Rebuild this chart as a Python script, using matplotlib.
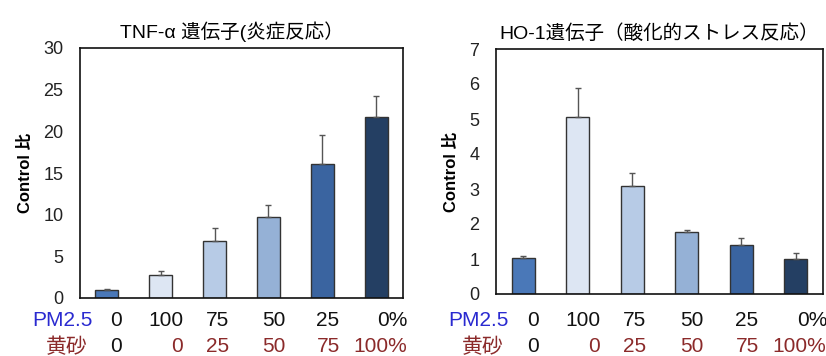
import matplotlib.pyplot as plt

plt.rcParams['font.family'] = ['Liberation Sans', 'Noto Sans CJK JP', 'DejaVu Sans']

# data
tnf_values = [1.0, 2.8, 6.8, 9.7, 16.1, 21.7]
tnf_errors = [0.1, 0.4, 1.6, 1.5, 3.5, 2.5]
ho1_values = [1.02, 5.05, 3.08, 1.77, 1.4, 1.0]
ho1_errors = [0.06, 0.85, 0.37, 0.06, 0.2, 0.16]

pm25_labels = ["0", "100", "75", "50", "25", "0%"]
kosa_labels = ["0", "0", "25", "50", "75", "100%"]

colors = ["#4a78b8", "#dde6f3", "#b7cbe6", "#95b1d6", "#3a64a0", "#243f63"]

fig = plt.figure(figsize=(8.26, 3.56), dpi=100)
ax1 = fig.add_axes([80 / 826, 1 - 298 / 356, 323 / 826, 250 / 356])
ax2 = fig.add_axes([496 / 826, 1 - 294 / 356, 327 / 826, 245 / 356])

# x positions of the label rows below each chart (data units)
pm_x = [0.17, 1.1, 2.05, 3.1, 4.1, 5.3]
ko_x = [0.17, 1.3, 2.05, 3.1, 4.12, 5.07]
red = "#8b2a2a"


def draw(ax, values, errors, ymax, title, title_x, bottom_px, height_px):
    x = range(len(values))
    ax.bar(x, values, width=0.43, color=colors, edgecolor="#333333", linewidth=1.0,
           yerr=[[0] * len(errors), errors], error_kw=dict(ecolor="#555555", elinewidth=1.0, capsize=2.5, capthick=1.0))
    ax.set_xlim(-0.5, 5.5)
    ax.set_ylim(0, ymax)
    ax.set_xticks([])
    ax.tick_params(axis="y", length=0, pad=12, labelsize=13, labelcolor="#222222")
    for s in ax.spines.values():
        s.set_linewidth(1.2)
        s.set_color("#111111")
    ax.set_ylabel("Control 比", fontsize=12, fontweight="bold", labelpad=7)
    ax.set_title(title, fontsize=14, pad=7, x=title_x)

    tr = ax.get_xaxis_transform()
    y1 = -(321 - bottom_px) / height_px
    y2 = -(347 - bottom_px) / height_px
    ax.text(-0.82, y1, "PM2.5", transform=tr, color="#2a2ad0", fontsize=15,
            ha="center", va="center", clip_on=False)
    ax.text(-0.74, y2, "黄砂", transform=tr, color=red, fontsize=15,
            ha="center", va="center", clip_on=False)
    for i, lab in enumerate(pm25_labels):
        ax.text(pm_x[i], y1, lab, transform=tr, color="#111111", fontsize=15,
                ha="center", va="center", clip_on=False)
    for i, lab in enumerate(kosa_labels):
        c = "#111111" if i == 0 else red
        ax.text(ko_x[i], y2, lab, transform=tr, color=c, fontsize=15,
                ha="center", va="center", clip_on=False)


draw(ax1, tnf_values, tnf_errors, 30, "TNF-α 遺伝子(炎症反応）", 0.47, 298, 250)
ax1.set_yticks(range(0, 31, 5))
draw(ax2, ho1_values, ho1_errors, 7, "HO-1遺伝子（酸化的ストレス反応）", 0.5, 294, 245)
ax2.set_yticks(range(0, 8))

fig.savefig("out.png", dpi=100)
